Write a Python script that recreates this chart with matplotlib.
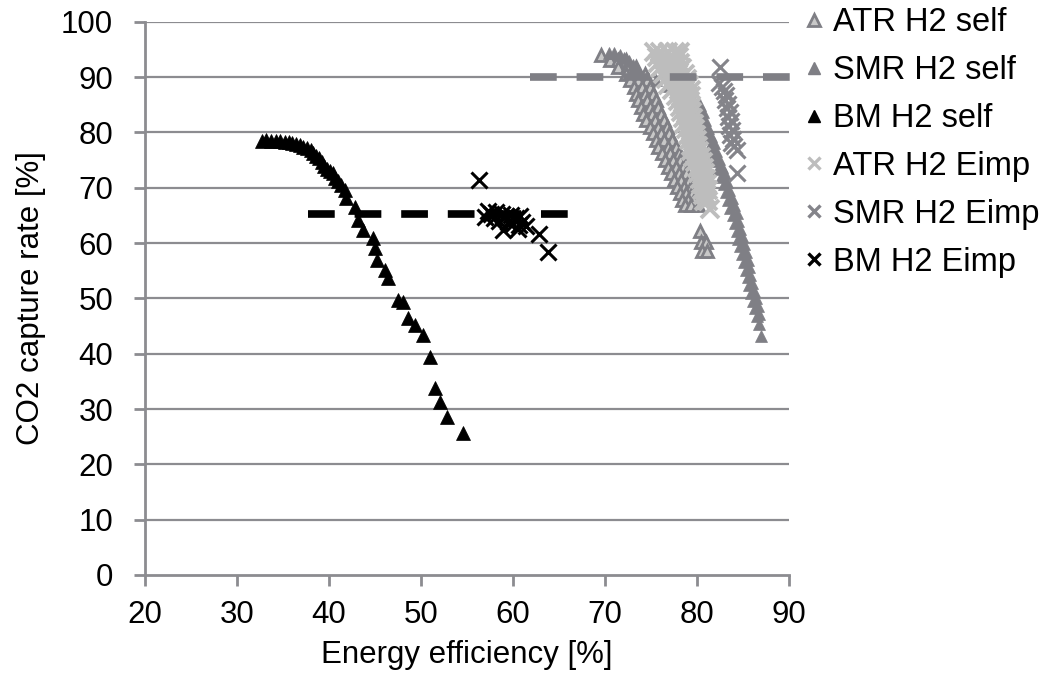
import matplotlib
matplotlib.use("Agg")
import matplotlib.pyplot as plt
from matplotlib.lines import Line2D

plt.rcParams['font.family'] = ['Liberation Sans', 'DejaVu Sans']

# ---------------- data ----------------
# ATR H2 self: rows of points (capture rate level -> efficiencies)
atr_self_row_y = [94.0, 93.0, 91.8, 90.6, 89.4, 88.2, 87.0, 85.8, 84.6, 83.4, 82.2, 81.0,
                  79.8, 78.6, 77.4, 76.2, 75.0, 73.8, 72.6, 71.4, 70.2, 69.0, 67.8, 66.8,
                  62.2, 60.2, 58.6]
atr_self_row_x = [[69.6], [70.5, 71.4, 72.3], [71.4, 72.4, 73.4], [72.3, 73.3, 74.3],
                  [72.7, 73.6, 74.6], [73.1, 74.0, 74.9], [73.4, 74.3, 75.2],
                  [73.6, 74.6, 75.5], [73.9, 74.9, 75.8], [74.1, 75.1, 76.1],
                  [74.5, 75.4, 76.4], [74.9, 75.8, 76.7], [75.2, 76.1, 77.0],
                  [75.5, 76.4, 77.3], [75.8, 76.8, 77.7], [76.2, 77.1, 78.0],
                  [76.5, 77.4, 78.2], [76.9, 77.7, 78.5], [77.2, 78.0, 78.8],
                  [77.5, 78.3, 79.1], [77.8, 78.6, 79.3], [78.1, 78.8, 79.5],
                  [78.4, 79.0, 79.7], [78.7, 79.4, 80.1],
                  [80.3], [80.4, 81.0], [80.5, 81.1]]

# SMR H2 self
smr_self_x = [70.4, 71.0, 71.6, 72.1, 72.6, 73.0, 73.4, 73.7, 75.5, 77.0, 78.5,
              79.6, 79.9, 80.2, 80.5, 80.8, 81.1, 81.4, 81.7, 82.0, 82.3, 82.6, 82.9,
              83.1, 83.4, 83.6, 83.9, 84.1, 84.3, 84.5, 84.7, 84.9, 85.1, 85.3, 85.5,
              85.7, 85.9, 86.1, 86.3, 86.5, 86.7, 87.0,
              80.3, 80.6, 80.9, 81.2, 81.5, 81.8, 82.1, 82.4, 82.7, 83.0, 83.3, 83.5,
              83.8, 84.0, 84.3, 84.5, 84.7, 84.9, 85.1, 85.3, 85.5, 85.6, 85.8, 86.0,
              86.2, 86.4, 86.6, 86.7]
smr_self_y = [94.4, 94.3, 94.0, 93.5, 92.9, 92.2, 91.4, 90.7, 89.5, 88.3, 87.0,
              86.0, 84.6, 83.2, 81.8, 80.4, 79.0, 77.6, 76.2, 74.8, 73.4, 72.0, 70.6,
              69.2, 67.8, 66.4, 65.0, 63.6, 62.2, 60.8, 59.4, 58.0, 56.6, 55.2, 53.8,
              52.4, 51.0, 49.6, 48.2, 46.8, 45.4, 43.2,
              85.0, 83.6, 82.2, 80.8, 79.4, 78.0, 76.6, 75.2, 73.8, 72.4, 71.0, 69.6,
              68.2, 66.8, 65.4, 64.0, 62.6, 61.2, 59.8, 58.4, 57.0, 55.6, 54.2, 52.8,
              51.4, 50.0, 48.6, 47.2]

# BM H2 self
bm_self_x = [32.7, 33.2, 33.7, 34.2, 34.7, 35.2, 35.6, 36.0, 36.4, 36.8, 37.2, 37.6,
             38.0, 38.3, 38.6, 38.9, 39.2, 39.5, 39.8, 40.1, 40.4, 40.7, 41.0, 41.3,
             41.7, 41.9, 42.8, 43.2, 43.7, 44.8, 45.0, 45.2, 46.1, 46.4, 47.5, 48.0,
             48.6, 49.3, 50.2, 51.0, 51.5, 52.1, 52.8, 54.6]
bm_self_y = [78.5, 78.6, 78.5, 78.4, 78.5, 78.3, 78.2, 78.0, 77.9, 77.7, 77.4, 77.2,
             76.8, 76.3, 75.8, 75.3, 74.6, 74.0, 73.4, 73.0, 72.6, 71.8, 71.2, 70.4,
             69.6, 68.2, 66.6, 64.2, 62.4, 60.9, 59.1, 57.0, 55.2, 53.7, 49.7, 49.4,
             46.5, 45.2, 43.4, 39.4, 33.8, 31.3, 28.6, 25.7]

# ATR H2 Eimp: rows
atr_eimp_row_y = [94.6, 93.6, 92.6, 91.6, 90.6, 89.6, 88.6, 87.6, 86.6, 85.6, 84.6, 83.6,
                  82.6, 81.6, 80.6, 79.6, 78.6, 77.6, 76.6, 75.6, 74.6, 73.6, 72.6, 71.6,
                  70.6, 69.6, 68.6, 67.6, 66.2]
atr_eimp_row_x = [[75.3, 76.0, 76.8, 77.6, 78.2], [75.6, 76.4, 77.2, 78.0],
                  [75.8, 76.6, 77.4, 78.2], [76.0, 76.8, 77.6, 78.4],
                  [76.3, 77.1, 77.9, 78.7], [76.6, 77.4, 78.2, 78.9],
                  [76.9, 77.7, 78.5, 79.1], [77.3, 78.0, 78.7, 79.3],
                  [77.7, 78.4, 79.0, 79.4], [77.9, 78.6, 79.2], [78.1, 78.8, 79.4],
                  [78.3, 79.0, 79.5], [78.5, 79.1, 79.6], [78.6, 79.2, 79.7],
                  [78.8, 79.3, 79.8], [79.0, 79.5, 79.9], [79.1, 79.6, 80.0],
                  [79.3, 79.8, 80.1], [79.4, 79.9, 80.2], [79.6, 80.1, 80.4],
                  [79.8, 80.3, 80.6], [80.0, 80.5, 80.8], [80.1, 80.6, 80.9],
                  [80.3, 80.7, 81.0], [80.4, 80.8, 81.1], [80.5, 80.9, 81.2],
                  [80.6, 81.0], [80.8, 81.2], [81.4]]

# SMR H2 Eimp
smr_eimp_x = [82.5, 82.4, 82.7, 82.9, 83.1, 83.0, 83.4, 83.3, 83.6, 83.4, 83.7, 83.5,
              83.8, 83.6, 83.9, 83.7, 84.0, 84.3, 84.4]
smr_eimp_y = [91.9, 89.0, 88.2, 87.5, 86.7, 85.9, 85.2, 84.4, 83.6, 82.8, 82.0, 81.2,
              80.4, 79.6, 78.8, 78.0, 77.5, 76.9, 72.6]

# BM H2 Eimp
bm_eimp_x = [56.3, 57.0, 57.3, 57.6, 57.9, 58.2, 58.5, 58.8, 58.9, 59.2, 59.5, 59.8,
             60.0, 60.3, 60.6, 60.8, 61.0, 60.5, 61.4, 62.8, 63.8]
bm_eimp_y = [71.4, 64.7, 65.8, 65.2, 64.5, 65.6, 64.0, 65.2, 62.4, 64.8, 63.8, 65.0,
             63.5, 64.6, 63.2, 64.8, 63.8, 62.6, 63.0, 61.6, 58.4]

# target lines (dashed)
bm_target_x = [37.7, 66.5]
bm_target_y = [65.3, 65.3]
ng_target_x = [61.8, 90.6]
ng_target_y = [90.0, 90.0]

x_ticks = [20, 30, 40, 50, 60, 70, 80, 90]
y_ticks = [0, 10, 20, 30, 40, 50, 60, 70, 80, 90, 100]

# ---------------- plotting ----------------
def flatten(rows_y, rows_x):
    xs, ys = [], []
    for yv, xr in zip(rows_y, rows_x):
        for xv in xr:
            xs.append(xv)
            ys.append(yv)
    return xs, ys

atr_self_x, atr_self_y = flatten(atr_self_row_y, atr_self_row_x)
atr_eimp_x, atr_eimp_y = flatten(atr_eimp_row_y, atr_eimp_row_x)

W, H = 1046, 700
fig = plt.figure(figsize=(W / 100, H / 100), dpi=100)
ax = fig.add_axes([145 / W, 1 - 575 / H, (789 - 145) / W, (575 - 21.7) / H])

grid_c = '#8c8c90'
dark_gray = '#7f7f85'
light_gray = '#bdbdbd'

ax.set_xlim(20, 90)
ax.set_ylim(0, 100)
ax.set_xticks(x_ticks)
ax.set_yticks(y_ticks)

for yv in y_ticks[1:]:
    ax.axhline(yv, color=grid_c, lw=1.6, zorder=1)

for s in ['top', 'right']:
    ax.spines[s].set_visible(False)
for s in ['left', 'bottom']:
    ax.spines[s].set_color(grid_c)
    ax.spines[s].set_linewidth(2)

ax.tick_params(axis='both', colors=grid_c, width=2, length=8, direction='out',
               labelsize=22.5, labelcolor='black')
ax.tick_params(axis='x', pad=10)
ax.tick_params(axis='y', pad=15)

ms_tri = 9
ms_x = 11.5
mew_x = 2.2

ax.plot(atr_self_x, atr_self_y, ls='none', marker='^', ms=ms_tri, mfc='#c8c8c8',
        mec=dark_gray, mew=2, zorder=3, label='ATR H2 self')
ax.plot(smr_self_x, smr_self_y, ls='none', marker='^', ms=ms_tri, mfc=dark_gray,
        mec=dark_gray, mew=0.5, zorder=4, label='SMR H2 self')
ax.plot(bm_self_x, bm_self_y, ls='none', marker='^', ms=ms_tri + 0.5, mfc='black',
        mec='black', mew=0.5, zorder=4, label='BM H2 self')
ax.plot(atr_eimp_x, atr_eimp_y, ls='none', marker='x', ms=ms_x + 1, mec=light_gray,
        mew=mew_x + 0.6, zorder=5, label='ATR H2 Eimp')
ax.plot(smr_eimp_x, smr_eimp_y, ls='none', marker='x', ms=ms_x, mec='#84848a',
        mew=mew_x, zorder=5, label='SMR H2 Eimp')
ax.plot(bm_eimp_x, bm_eimp_y, ls='none', marker='x', ms=ms_x, mec='black',
        mew=mew_x, zorder=5, label='BM H2 Eimp')

lw_d = 5.5
ax.plot(bm_target_x, bm_target_y, color='black', lw=lw_d, dashes=(3.5, 2.6),
        solid_capstyle='butt', zorder=6, clip_on=False)
ax.plot(ng_target_x, ng_target_y, color=dark_gray, lw=lw_d, dashes=(3.5, 2.6),
        solid_capstyle='butt', zorder=6, clip_on=False)

ax.set_xlabel('Energy efficiency [%]', fontsize=22.5, labelpad=7)
ax.set_ylabel('CO2 capture rate [%]', fontsize=22.5, labelpad=11)

handles = [
    Line2D([], [], ls='none', marker='^', ms=8, mfc='#c8c8c8', mec=dark_gray, mew=2),
    Line2D([], [], ls='none', marker='^', ms=8, mfc=dark_gray, mec=dark_gray),
    Line2D([], [], ls='none', marker='^', ms=8, mfc='black', mec='black'),
    Line2D([], [], ls='none', marker='x', ms=9, mec=light_gray, mew=2.4),
    Line2D([], [], ls='none', marker='x', ms=9, mec='#84848a', mew=2.4),
    Line2D([], [], ls='none', marker='x', ms=9, mec='black', mew=2.4),
]
labels = ['ATR H2 self', 'SMR H2 self', 'BM H2 self', 'ATR H2 Eimp', 'SMR H2 Eimp',
          'BM H2 Eimp']
fig.legend(handles, labels, loc='upper left', bbox_to_anchor=(804 / W, 1 - 7 / H),
           frameon=False, fontsize=23.5, handlelength=0.6, handletextpad=0.28,
           labelspacing=0.52, borderpad=0, borderaxespad=0)

fig.savefig('out.png', dpi=100)
